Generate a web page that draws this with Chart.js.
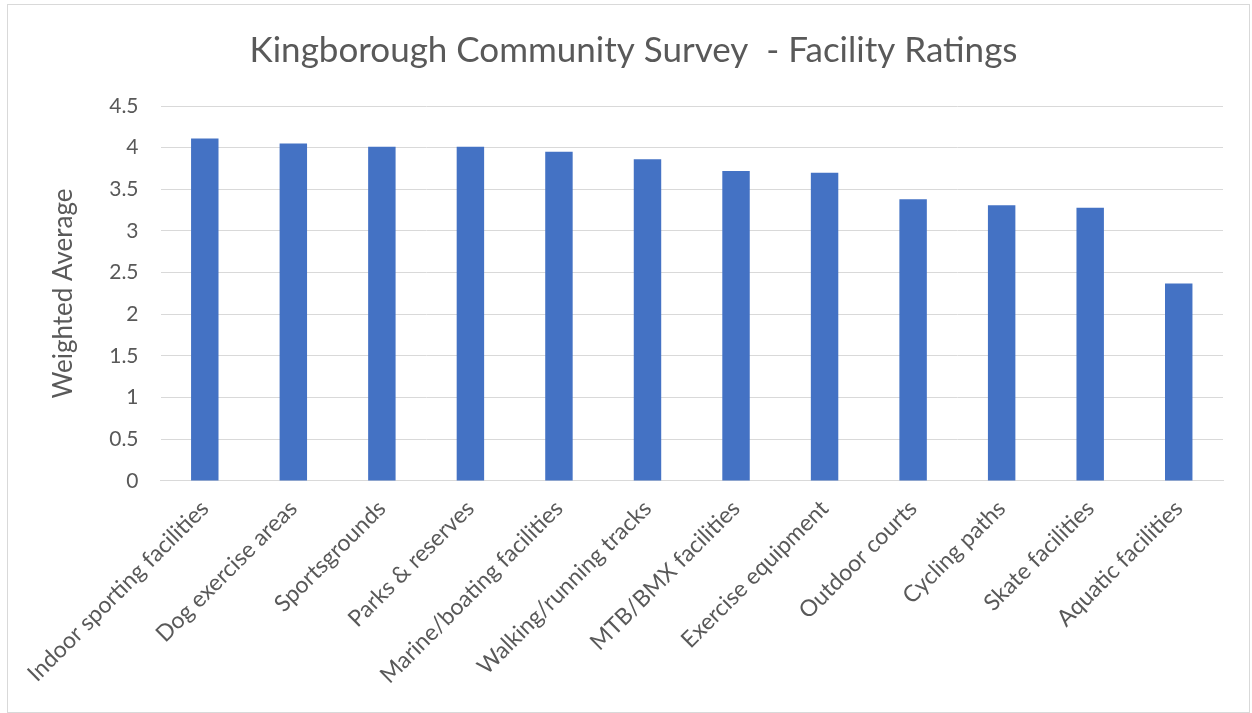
<!DOCTYPE html>
<html>
<head>
<meta charset="utf-8">
<script src="https://cdn.jsdelivr.net/npm/chart.js@4.4.1/dist/chart.umd.min.js"></script>
<style>
    html, body { margin: 0; padding: 0; background: #fff; }
    #wrap { position: absolute; left: 7px; top: 4px; width: 1243px; height: 709px; border: 1px solid #d9d9d9; box-sizing: border-box; }
</style>
</head>
<body>
<div id="wrap"><canvas id="ratingsChart"></canvas></div>
<script>
// Data
const facilities = [
    'Indoor sporting facilities', 'Dog exercise areas', 'Sportsgrounds', 'Parks & reserves',
    'Marine/boating facilities', 'Walking/running tracks', 'MTB/BMX facilities', 'Exercise equipment',
    'Outdoor courts', 'Cycling paths', 'Skate facilities', 'Aquatic facilities'
];
const weightedAverage = [4.11, 4.05, 4.01, 4.01, 3.95, 3.86, 3.72, 3.70, 3.38, 3.31, 3.28, 2.37];
const yTicks = [0, 0.5, 1, 1.5, 2, 2.5, 3, 3.5, 4, 4.5];

const textColor = '#595959';
const gridColor = '#d9d9d9';
const fontFamily = 'Lato, "Open Sans", sans-serif';

const ctx = document.getElementById('ratingsChart').getContext('2d');
new Chart(ctx, {
    type: 'bar',
    data: {
        labels: facilities,
        datasets: [{
            label: 'Weighted Average',
            data: weightedAverage,
            backgroundColor: '#4472c4',
            borderWidth: 0,
            categoryPercentage: 1.0,
            barPercentage: 0.31
        }]
    },
    options: {
        responsive: true,
        maintainAspectRatio: false,
        animation: false,
        layout: { padding: { left: 36, right: 26, top: 8, bottom: 17 } },
        plugins: {
            legend: { display: false },
            tooltip: { enabled: false },
            title: {
                display: true,
                text: 'Kingborough Community Survey  - Facility Ratings',
                color: textColor,
                font: { family: fontFamily, size: 35, weight: 'normal' },
                padding: { top: 17, bottom: 34 }
            }
        },
        scales: {
            x: {
                grid: { display: false },
                border: { display: true, color: gridColor, width: 1 },
                ticks: {
                    color: textColor,
                    font: { family: fontFamily, size: 23 },
                    maxRotation: 45,
                    minRotation: 45,
                    autoSkip: false,
                    padding: 6
                }
            },
            y: {
                min: 0,
                max: 4.5,
                afterBuildTicks: (axis) => { axis.ticks = yTicks.map(v => ({ value: v })); },
                grid: { color: gridColor, lineWidth: 1, drawTicks: false },
                border: { display: false },
                ticks: {
                    color: textColor,
                    font: { family: fontFamily, size: 21 },
                    padding: 22,
                    callback: (value) => String(value)
                },
                title: {
                    display: true,
                    text: 'Weighted Average',
                    color: textColor,
                    font: { family: fontFamily, size: 26 },
                    padding: { bottom: 8 }
                }
            }
        }
    }
});
</script>
</body>
</html>
